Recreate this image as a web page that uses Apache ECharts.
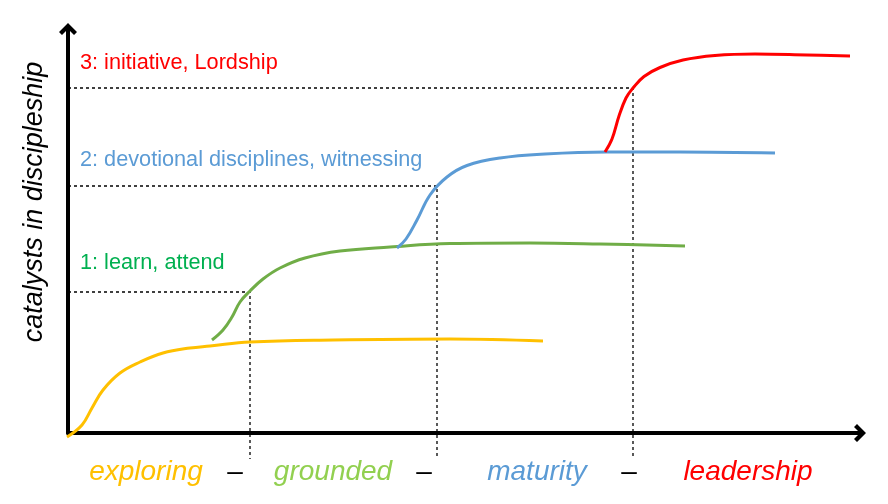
<!DOCTYPE html>
<html>
<head>
<meta charset="utf-8">
<script src="https://cdn.jsdelivr.net/npm/echarts@6/dist/echarts.min.js"></script>
<style>
  html, body { margin: 0; padding: 0; background: #fff; }
  #main { width: 888px; height: 504px; }
</style>
</head>
<body>
<div id="main"></div>
<script>
// curves as [progress, level]
var exploringCurve = [[-1, -4], [14, 8], [24, 25], [35, 43], [52, 60], [72, 71], [95, 80], [122, 85], [142, 87], [182, 91], [265, 93], [382, 94], [475, 92]];
var groundedCurve = [[144, 93], [155, 103], [164, 116], [172, 131], [182, 142], [195, 154], [212, 165], [237, 175], [272, 182], [322, 186], [382, 189.5], [462, 190], [532, 189], [617, 187]];
var maturityCurve = [[329, 185], [338, 194], [349, 213], [362, 238], [379, 256], [399, 267.5], [432, 275], [477, 279], [539, 281], [612, 281], [707, 280]];
var leadershipCurve = [[537, 281], [544, 294], [551, 317], [558, 335], [565, 345], [576, 356.5], [592, 365.5], [615, 373], [647, 377.5], [687, 379], [739, 378], [782, 377]];

var curveColors = ['#FFC000', '#70AD47', '#5B9BD5', '#FF0000'];

// points where a curve reaches the next catalyst level
var levelPoints = [[182, 141], [369, 247], [565, 345]];
var levelNames = ['1: learn, attend', '2: devotional disciplines, witnessing', '3: initiative, Lordship'];
var levelColors = ['#00B050', '#5B9BD5', '#FF0000'];

// stage labels under the x axis
var stageNames = ['exploring', '–', 'grounded', '–', 'maturity', '–', 'leadership'];
var stageAt = [78, 167, 265, 356, 469, 561, 680];
var stageKeys = ['y', 'k', 'g', 'k', 'b', 'k', 'r'];

var chart = echarts.init(document.getElementById('main'));

var arrow = 'path://M9,0 L18,9 L15,12 L11,8 L11,16 L7,16 L7,8 L3,12 L0,9 Z';
var font = 'Liberation Sans';

var series = [];
[exploringCurve, groundedCurve, maturityCurve, leadershipCurve].forEach(function (d, i) {
  series.push({
    type: 'line', data: d, smooth: 0.4, showSymbol: false, clip: false, z: 3,
    lineStyle: { color: curveColors[i], width: 3 }
  });
});
// dashed guides: from the y axis to the crossing, then down past the x axis
levelPoints.forEach(function (p) {
  series.push({
    type: 'line', data: [[0, p[1]], [p[0], p[1]], [p[0], -26]], showSymbol: false, clip: false, z: 2,
    lineStyle: { color: '#000', width: 1.3, type: [3, 3] }
  });
});

function richItem(color, italic) {
  return { color: color, fontSize: 28, fontStyle: italic ? 'italic' : 'normal', fontFamily: font, lineHeight: 28 };
}

var graphics = [{
  type: 'text', x: 34, y: 202, rotation: Math.PI / 2,
  style: { text: 'catalysts in discipleship', fill: '#000', font: 'italic 27px "Liberation Sans"', textAlign: 'center', textVerticalAlign: 'middle' }
}];
var levelLabelY = [263, 160, 63];
levelNames.forEach(function (t, i) {
  graphics.push({
    type: 'text', x: 80, y: levelLabelY[i],
    style: { text: t, fill: levelColors[i], font: '21.7px "Liberation Sans"', textAlign: 'left', textVerticalAlign: 'middle' }
  });
});

chart.setOption({
  animation: false,
  backgroundColor: '#fff',
  grid: { left: 68, right: 30, top: 31, bottom: 71 },
  xAxis: {
    type: 'value', min: 0, max: 790,
    splitLine: { show: false }, axisTick: { show: false },
    axisLine: { show: true, onZero: false, symbol: ['none', arrow], symbolSize: [18, 16], lineStyle: { color: '#000', width: 4 } },
    axisLabel: {
      customValues: stageAt, margin: 25,
      formatter: function (v) {
        var i = stageAt.indexOf(v);
        return i < 0 ? '' : '{' + stageKeys[i] + '|' + stageNames[i] + '}';
      },
      rich: {
        y: richItem('#FFC000', true), g: richItem('#92D050', true), b: richItem('#5B9BD5', true),
        r: richItem('#FF0000', true), k: richItem('#000', false)
      }
    }
  },
  yAxis: {
    type: 'value', min: 0, max: 402,
    splitLine: { show: false }, axisTick: { show: false }, axisLabel: { show: false },
    axisLine: { show: true, symbol: ['none', arrow], symbolSize: [18, 16], lineStyle: { color: '#000', width: 4 } }
  },
  graphic: graphics,
  series: series
});
</script>
</body>
</html>
